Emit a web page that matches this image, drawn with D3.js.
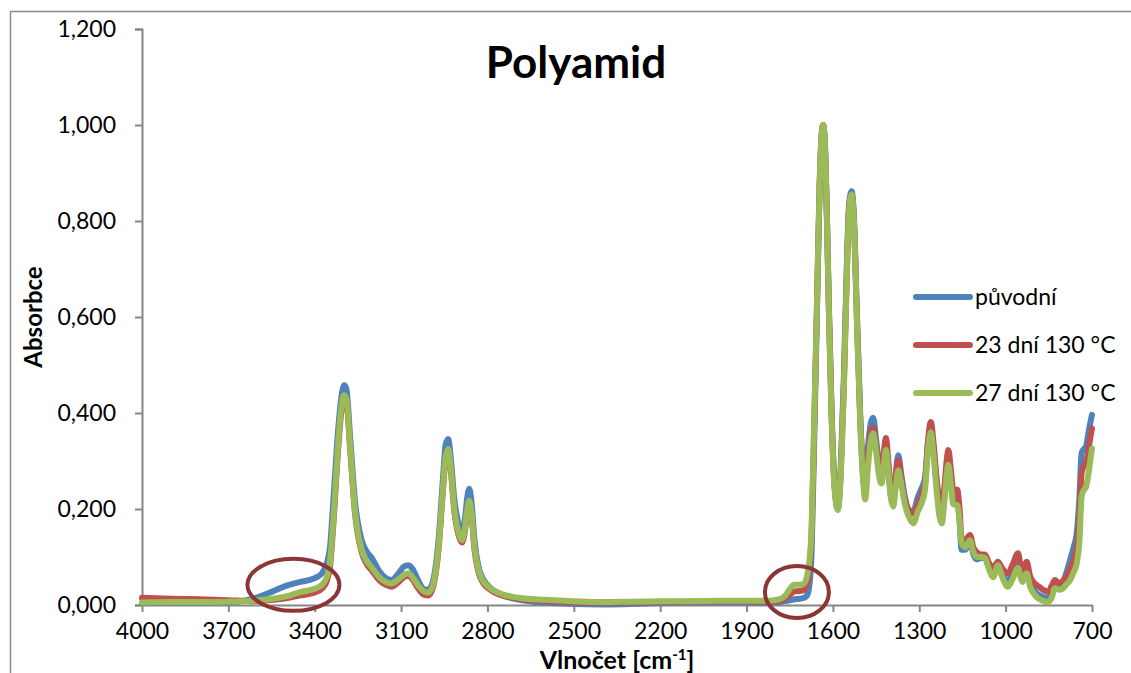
<!DOCTYPE html>
<html>
<head>
<meta charset="utf-8">
<script src="https://cdn.jsdelivr.net/npm/d3@7"></script>
<style>
  body { margin: 0; background: #fff; }
  svg text { font-family: Lato, "Open Sans", sans-serif; fill: #000; }
</style>
</head>
<body>
<svg id="chart" width="1131" height="673"></svg>
<script>
// wavenumbers (cm-1) shared by all three spectra
const wavenumbers = [4000,3900,3800,3700,3620,3560,3500,3450,3400,3375,3358,3347,3335,3318,3308,3298,3290,3277,3260,3237,3220,3202,3173,3150,3133,3110,3090,3075,3060,3040,3020,3005,2990,2970,2955,2945,2936,2928,2915,2900,2888,2878,2870,2863,2855,2845,2832,2815,2791,2760,2720,2680,2600,2500,2400,2300,2200,2100,2000,1900,1820,1785,1765,1748,1735,1715,1700,1690,1682,1674,1665,1656,1646,1640,1634,1628,1620,1614,1605,1595,1583,1572,1562,1552,1544,1535,1527,1517,1505,1495,1488,1478,1468,1460,1450,1440,1431,1423,1416,1406,1398,1390,1382,1373,1362,1350,1335,1321,1305,1292,1280,1270,1260,1250,1240,1230,1222,1212,1205,1199,1190,1182,1168,1160,1153,1140,1124,1112,1100,1085,1072,1058,1043,1027,1010,992,975,957,949,941,934,927,915,900,893,875,853,840,829,815,805,790,776,764,753,744,736,728,721,712,704,700];

const puvodni = [.004,.005,.005,.006,.012,.025,.040,.048,.056,.066,.087,.120,.220,.370,.430,.458,.450,.350,.215,.135,.112,.098,.068,.055,.052,.065,.080,.083,.075,.050,.033,.032,.048,.135,.260,.335,.346,.310,.220,.168,.150,.180,.225,.242,.212,.135,.082,.054,.036,.024,.015,.010,.005,.002,.001,.002,.004,.005,.006,.006,.005,.006,.008,.010,.012,.013,.015,.020,.040,.110,.340,.590,.870,.970,1.000,.965,.790,.625,.415,.260,.205,.300,.475,.700,.835,.862,.810,.615,.395,.275,.240,.330,.380,.390,.345,.300,.290,.300,.330,.270,.225,.215,.270,.312,.270,.225,.198,.195,.225,.243,.265,.335,.370,.320,.255,.210,.200,.240,.280,.300,.260,.225,.220,.175,.115,.115,.135,.105,.095,.098,.098,.078,.065,.083,.062,.050,.068,.087,.068,.055,.068,.075,.045,.030,.025,.018,.015,.028,.045,.042,.045,.065,.094,.120,.150,.220,.316,.325,.330,.360,.385,.396];

const dni23 = [.015,.013,.012,.010,.008,.010,.014,.020,.026,.034,.050,.080,.170,.330,.400,.430,.425,.325,.190,.110,.086,.072,.050,.041,.038,.047,.058,.061,.053,.034,.021,.020,.035,.115,.235,.305,.318,.285,.195,.145,.130,.155,.195,.212,.185,.115,.070,.046,.032,.022,.016,.012,.008,.005,.004,.005,.006,.007,.008,.008,.007,.009,.014,.022,.028,.029,.032,.045,.075,.150,.375,.610,.880,.970,1.000,.960,.785,.615,.405,.255,.200,.285,.455,.685,.825,.855,.800,.605,.385,.265,.230,.310,.360,.370,.330,.285,.280,.320,.348,.290,.235,.220,.265,.302,.262,.220,.195,.190,.210,.230,.255,.340,.381,.335,.265,.215,.200,.250,.300,.323,.280,.240,.240,.200,.140,.135,.146,.120,.110,.105,.105,.088,.077,.090,.075,.066,.085,.108,.085,.065,.082,.090,.060,.045,.042,.034,.027,.040,.052,.046,.048,.058,.073,.095,.120,.180,.275,.290,.295,.325,.355,.368];

const dni27 = [.005,.006,.006,.007,.009,.012,.018,.027,.034,.042,.058,.090,.180,.340,.410,.437,.430,.330,.195,.115,.092,.078,.056,.047,.045,.053,.063,.066,.058,.040,.028,.026,.040,.120,.240,.310,.325,.290,.200,.150,.135,.160,.200,.217,.190,.120,.075,.050,.035,.025,.018,.014,.011,.008,.006,.007,.008,.008,.009,.009,.009,.012,.020,.035,.042,.042,.045,.060,.090,.160,.380,.610,.880,.970,1.000,.960,.780,.610,.400,.250,.198,.280,.450,.680,.820,.855,.800,.600,.380,.260,.220,.290,.345,.358,.320,.270,.253,.290,.323,.270,.220,.205,.245,.280,.250,.210,.182,.170,.195,.212,.240,.320,.360,.310,.240,.185,.170,.220,.270,.292,.250,.210,.208,.175,.130,.120,.135,.110,.100,.100,.098,.075,.058,.083,.055,.038,.055,.077,.060,.048,.060,.066,.038,.022,.017,.010,.006,.015,.035,.032,.033,.042,.052,.068,.087,.130,.226,.240,.245,.275,.310,.326];

const seriesNames = ["původní", "23 dní 130 °C", "27 dní 130 °C"];
const seriesColors = ["#4f81bd", "#c0504d", "#9bbb59"];
const xTicks = [4000,3700,3400,3100,2800,2500,2200,1900,1600,1300,1000,700];
const yTicks = [0, 0.2, 0.4, 0.6, 0.8, 1.0, 1.2];
// circled regions: [wavenumber, absorbance]
const marks = [[3474, 0.042], [1725, 0.027]];

const svg = d3.select("#chart"),
  margin = {top: 29, right: 39, bottom: 68, left: 142},
  width = 1131 - margin.left - margin.right,
  height = 673 - margin.top - margin.bottom;

// outer chart frame (cut off on right and bottom)
svg.append("rect")
  .attr("x", 10.5).attr("y", 11.5)
  .attr("width", 1200).attr("height", 800)
  .attr("fill", "none").attr("stroke", "#8c8c8c").attr("stroke-width", 1.5);

const x = d3.scaleLinear().domain([4000, 700]).range([0, width]);
const y = d3.scaleLinear().domain([0, 1.2]).range([height, 0]);

const g = svg.append("g").attr("transform", "translate(" + margin.left + "," + margin.top + ")");

const fmt = d => d3.format(".3f")(d).replace(".", ",");

g.append("g")
  .attr("class", "axis axis--y")
  .call(d3.axisLeft(y).tickValues(yTicks).tickFormat(fmt).tickSize(7).tickPadding(19))
  .call(a => {
    a.selectAll("path,line").attr("stroke", "#868686").attr("stroke-width", 2);
    a.selectAll("text").attr("font-size", 23).attr("font-family", "Lato");
  });

g.append("g")
  .attr("class", "axis axis--x")
  .attr("transform", "translate(0," + height + ")")
  .call(d3.axisBottom(x).tickValues(xTicks).tickFormat(d3.format("d")).tickSize(7).tickSizeOuter(0).tickPadding(11))
  .call(a => {
    a.selectAll("path,line").attr("stroke", "#868686").attr("stroke-width", 2);
    a.selectAll("text").attr("font-size", 23).attr("font-family", "Lato");
  });

const line = d3.line()
  .x(d => x(d[0]))
  .y(d => y(d[1]))
  .curve(d3.curveMonotoneX);

[puvodni, dni23, dni27].forEach((vals, i) => {
  g.append("path")
    .datum(wavenumbers.map((w, j) => [w, vals[j]]))
    .attr("fill", "none")
    .attr("stroke", seriesColors[i])
    .attr("stroke-width", 6)
    .attr("stroke-linejoin", "round")
    .attr("stroke-linecap", "round")
    .attr("d", line);
});

g.selectAll("ellipse.mark")
  .data(marks)
  .enter().append("ellipse")
  .attr("class", "mark")
  .attr("cx", d => x(d[0]))
  .attr("cy", d => y(d[1]))
  .attr("rx", (d, i) => i === 0 ? 46 : 32)
  .attr("ry", 26)
  .attr("fill", "none")
  .attr("stroke", "#8b3536")
  .attr("stroke-width", 4);

// title
svg.append("text")
  .attr("x", 576).attr("y", 78)
  .attr("text-anchor", "middle")
  .attr("font-size", 44).attr("font-weight", "bold")
  .text("Polyamid");

// axis titles
svg.append("text")
  .attr("transform", "translate(42," + (margin.top + height / 2) + ") rotate(-90)")
  .attr("text-anchor", "middle")
  .attr("font-size", 24).attr("font-weight", "bold")
  .text("Absorbce");

const xt = svg.append("text")
  .attr("x", margin.left + width / 2).attr("y", 669)
  .attr("text-anchor", "middle")
  .attr("font-size", 25).attr("font-weight", "bold");
xt.append("tspan").text("Vlnočet [cm");
xt.append("tspan").attr("dy", -9).attr("font-size", 15).text("-1");
xt.append("tspan").attr("dy", 9).text("]");

// legend
const legend = svg.append("g").selectAll("g")
  .data(seriesNames)
  .enter().append("g")
  .attr("transform", (d, i) => "translate(916," + (297 + i * 48) + ")");
legend.append("line")
  .attr("x1", 0).attr("x2", 54)
  .attr("stroke", (d, i) => seriesColors[i])
  .attr("stroke-width", 6)
  .attr("stroke-linecap", "round");
legend.append("text")
  .attr("x", 59).attr("dy", "0.35em")
  .attr("font-size", 23)
  .text(d => d);
</script>
</body>
</html>
